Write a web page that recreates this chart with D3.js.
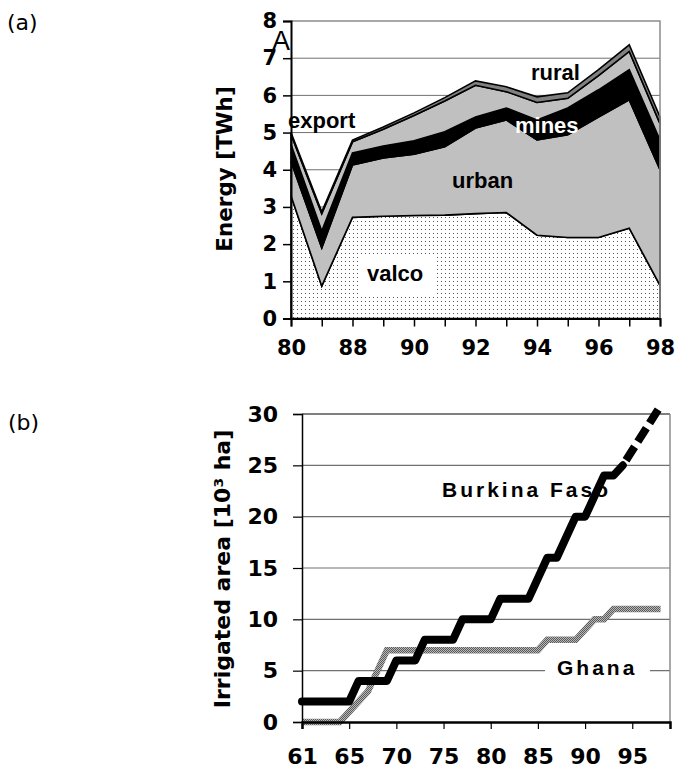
<!DOCTYPE html>
<html>
<head>
<meta charset="utf-8">
<script src="https://cdn.jsdelivr.net/npm/d3@7"></script>
<style>
  body { margin: 0; background: #fff; }
  svg text { fill: #000; }
</style>
</head>
<body>
<div id="chart"></div>
<script>
// ---- (a) electricity use, stacked (TWh) ----
const energyYears  = ['80', '85', '88', '89', '90', '91', '92', '93', '94', '95', '96', '97', '98'];
const energyLabels = ['80', '88', '90', '92', '94', '96', '98'];
const energyTicks  = [0, 1, 2, 3, 4, 5, 6, 7, 8];
const valco  = [3.30, 0.87, 2.72, 2.75, 2.77, 2.78, 2.82, 2.85, 2.24, 2.18, 2.18, 2.43, 0.89];
const urban  = [0.92, 1.03, 1.41, 1.57, 1.65, 1.84, 2.30, 2.49, 2.56, 2.76, 3.24, 3.45, 3.11];
const mines  = [0.46, 0.45, 0.32, 0.32, 0.36, 0.40, 0.30, 0.32, 0.54, 0.72, 0.73, 0.81, 0.80];
const xport  = [0.27, 0.47, 0.30, 0.45, 0.68, 0.83, 0.85, 0.44, 0.47, 0.26, 0.38, 0.49, 0.44];
const rural  = [0.05, 0.05, 0.05, 0.06, 0.07, 0.09, 0.12, 0.13, 0.15, 0.15, 0.16, 0.18, 0.18];

// ---- (b) irrigated area (10^3 ha) ----
const areaTicks   = [0, 5, 10, 15, 20, 25, 30];
const yearTicks   = [60, 65, 70, 75, 80, 85, 90, 95];
const yearLabels  = ['61', '65', '70', '75', '80', '85', '90', '95'];
const burkinaYears = [60, 65, 66, 69, 70, 72, 73, 76, 77, 80, 81, 84, 86, 87, 89, 90, 92, 93, 94];
const burkinaArea  = [2, 2, 4, 4, 6, 6, 8, 8, 10, 10, 12, 12, 16, 16, 20, 20, 24, 24, 25];
const burkinaProjYears = [94, 98];
const burkinaProjArea  = [25, 30.8];
const ghanaYears = [60, 64, 65, 66, 67, 68, 69, 85, 86, 89, 90, 91, 92, 93, 98];
const ghanaArea  = [0, 0, 1, 2, 3, 5, 7, 7, 8, 8, 9, 10, 10, 11, 11];

const W = 675, H = 769;
const tickFont = 'DejaVu Sans, Verdana, sans-serif';
const labFont = 'Liberation Sans, Arial, sans-serif';

const svg = d3.select('#chart').append('svg')
  .attr('width', W).attr('height', H)
  .style('font-family', tickFont);

const defs = svg.append('defs');
const dots = defs.append('pattern').attr('id', 'dots')
  .attr('patternUnits', 'userSpaceOnUse').attr('width', 4).attr('height', 4);
dots.append('rect').attr('width', 4).attr('height', 4).attr('fill', '#fff');
dots.append('rect').attr('x', 1).attr('y', 1).attr('width', 1).attr('height', 1).attr('fill', '#555');

const tex = defs.append('pattern').attr('id', 'ghanaTex')
  .attr('patternUnits', 'userSpaceOnUse').attr('width', 2).attr('height', 2);
tex.append('rect').attr('width', 2).attr('height', 2).attr('fill', '#b8b8b8');
tex.append('rect').attr('width', 1).attr('height', 1).attr('fill', '#5a5a5a');
tex.append('rect').attr('x', 1).attr('y', 1).attr('width', 1).attr('height', 1).attr('fill', '#5a5a5a');

// ================= panel (a) =================
const a = { left: 291, right: 660, top: 21, bottom: 318.5 };
const xa = d3.scalePoint().domain(energyYears).range([a.left, a.right]);
const ya = d3.scaleLinear().domain([0, 8]).range([a.bottom, a.top]);

const gA = svg.append('g');

gA.append('g').selectAll('line')
  .data(energyTicks.filter(d => d > 0 && d < 8)).enter()
  .append('line')
  .attr('x1', a.left).attr('x2', a.right)
  .attr('y1', d => ya(d)).attr('y2', d => ya(d))
  .attr('stroke', '#707070').attr('stroke-width', 1);

const rows = energyYears.map((yr, i) => ({
  year: yr, valco: valco[i], urban: urban[i], mines: mines[i], xport: xport[i], rural: rural[i]
}));
const keys = ['valco', 'urban', 'mines', 'xport', 'rural'];
const fills = { valco: 'url(#dots)', urban: '#c0c0c0', mines: '#000', xport: '#c0c0c0', rural: '#808080' };
const stacked = d3.stack().keys(keys)(rows);

const area = d3.area()
  .x(d => xa(d.data.year))
  .y0(d => ya(d[0]))
  .y1(d => ya(d[1]));

gA.append('g').selectAll('path')
  .data(stacked).enter()
  .append('path')
  .attr('d', area)
  .attr('fill', d => fills[d.key])
  .attr('stroke', '#000')
  .attr('stroke-width', 1.6)
  .attr('stroke-linejoin', 'miter');

// frame
gA.append('path')
  .attr('d', `M${a.left},${a.top}H${a.right}V${a.bottom}`)
  .attr('fill', 'none').attr('stroke', '#8c8c8c').attr('stroke-width', 1.5);

// labels in the plot
gA.append('rect').attr('x', 360).attr('y', 255).attr('width', 77).attr('height', 42).attr('fill', '#fff');
const lab = (t, x, y, fill) => gA.append('text')
  .attr('x', x).attr('y', y)
  .style('font-family', labFont).style('font-weight', 'bold').style('font-size', '22px')
  .style('fill', fill || '#000')
  .text(t);
lab('valco', 367, 281);
lab('urban', 452, 188);
lab('mines', 515, 133, '#fff');
lab('rural', 531, 80);
lab('export', 288, 128);

// axes
const axA_y = gA.append('g')
  .attr('transform', `translate(${a.left},0)`)
  .call(d3.axisLeft(ya).tickValues(energyTicks).tickSize(8).tickPadding(6).tickFormat(d3.format('d')));
const axA_x = gA.append('g')
  .attr('transform', `translate(0,${a.bottom})`)
  .call(d3.axisBottom(xa).tickSize(8).tickPadding(14)
    .tickFormat(d => energyLabels.includes(d) ? d : ''));
[axA_y, axA_x].forEach(ax => {
  ax.select('.domain').attr('stroke', '#000').attr('stroke-width', 2);
  ax.selectAll('.tick line').attr('stroke', '#000').attr('stroke-width', 1.5);
  ax.selectAll('.tick text')
    .style('font-family', tickFont).style('font-weight', 'bold').style('font-size', '21px')
    .attr('fill', '#000');
});

gA.append('text')
  .attr('transform', 'translate(232,169) rotate(-90)')
  .attr('text-anchor', 'middle')
  .style('font-weight', 'bold').style('font-size', '21.5px')
  .text('Energy [TWh]');

gA.append('text')
  .attr('x', 272).attr('y', 50)
  .style('font-family', labFont).style('font-size', '27px')
  .text('A');

svg.append('text').attr('x', 7).attr('y', 30)
  .style('font-size', '22px').text('(a)');

// ================= panel (b) =================
const b = { left: 302, right: 670, top: 414, bottom: 722 };
const xb = d3.scaleLinear().domain([60, 99]).range([b.left, b.right]);
const yb = d3.scaleLinear().domain([0, 30]).range([b.bottom, b.top]);

const gB = svg.append('g');

gB.append('g').selectAll('line')
  .data(areaTicks.filter(d => d > 0)).enter()
  .append('line')
  .attr('x1', b.left).attr('x2', b.right)
  .attr('y1', d => yb(d)).attr('y2', d => yb(d))
  .attr('stroke', d => d === 30 ? '#000' : '#707070')
  .attr('stroke-width', 1.2);

gB.append('line')
  .attr('x1', b.right).attr('x2', b.right)
  .attr('y1', b.top).attr('y2', b.bottom)
  .attr('stroke', '#8c8c8c').attr('stroke-width', 1.5);

// series labels
gB.append('rect').attr('x', 545).attr('y', 656).attr('width', 105).attr('height', 26).attr('fill', '#fff');
gB.append('text')
  .attr('x', 557).attr('y', 675)
  .style('font-family', labFont).style('font-weight', 'bold').style('font-size', '21px')
  .style('letter-spacing', '3px')
  .text('Ghana');
gB.append('text')
  .attr('x', 442).attr('y', 497)
  .style('font-family', labFont).style('font-weight', 'bold').style('font-size', '21px')
  .style('letter-spacing', '3px')
  .text('Burkina Faso');

const line = d3.line().x(d => xb(d[0])).y(d => yb(d[1]));

gB.append('path')
  .attr('d', line(d3.zip(ghanaYears, ghanaArea)))
  .attr('fill', 'none')
  .attr('stroke', 'url(#ghanaTex)')
  .attr('stroke-width', 6.5)
  .attr('stroke-linejoin', 'miter');

gB.append('path')
  .attr('d', line(d3.zip(burkinaYears, burkinaArea)))
  .attr('fill', 'none')
  .attr('stroke', '#000')
  .attr('stroke-width', 8)
  .attr('stroke-linecap', 'round')
  .attr('stroke-linejoin', 'round');

gB.append('path')
  .attr('d', line(d3.zip(burkinaProjYears, burkinaProjArea)))
  .attr('fill', 'none')
  .attr('stroke', '#000')
  .attr('stroke-width', 8)
  .attr('stroke-dasharray', '16,6')
  .attr('stroke-dashoffset', 16);

const axB_y = gB.append('g')
  .attr('transform', `translate(${b.left},0)`)
  .call(d3.axisLeft(yb).tickValues(areaTicks).tickSize(9).tickPadding(15));
const axB_x = gB.append('g')
  .attr('transform', `translate(0,${b.bottom})`)
  .call(d3.axisBottom(xb).tickValues(yearTicks).tickSize(7).tickPadding(19)
    .tickFormat((d, i) => yearLabels[i]));
axB_y.select('.domain').attr('stroke', '#000').attr('stroke-width', 1.5);
axB_x.select('.domain').attr('stroke', '#000').attr('stroke-width', 2.5);
[axB_y, axB_x].forEach(ax => {
  ax.selectAll('.tick line').attr('stroke', '#000').attr('stroke-width', 1.2);
  ax.selectAll('.tick text')
    .style('font-family', tickFont).style('font-weight', 'bold').style('font-size', '22px')
    .attr('fill', '#000');
});

gB.append('text')
  .attr('transform', 'translate(230,569) rotate(-90)')
  .attr('text-anchor', 'middle')
  .style('font-weight', 'bold').style('font-size', '22px')
  .text('Irrigated area [10³ ha]');

svg.append('text').attr('x', 8).attr('y', 430)
  .style('font-size', '22px').text('(b)');
</script>
</body>
</html>
